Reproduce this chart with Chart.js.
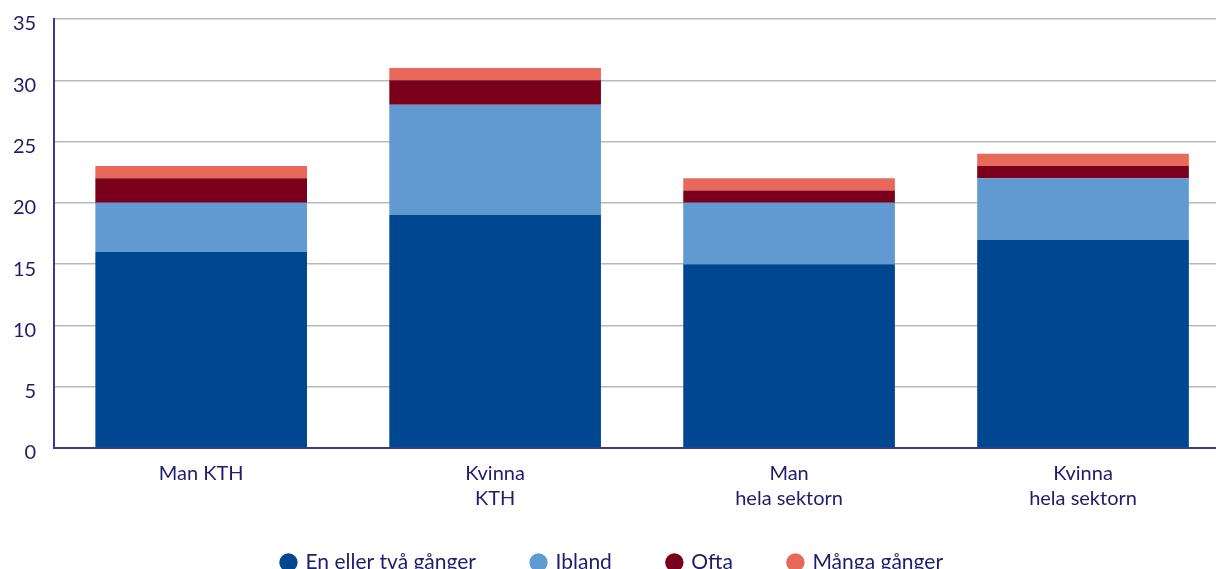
<!DOCTYPE html>
<html>
<head>
<meta charset="utf-8">
<script src="https://cdn.jsdelivr.net/npm/chart.js@4.4.1/dist/chart.umd.min.js"></script>
<style>
  html, body { margin: 0; padding: 0; background: #fff; overflow: hidden; }
  #wrap { width: 1230px; height: 594px; position: relative; margin-top: -11px; }
</style>
</head>
<body>
<div id="wrap"><canvas id="c"></canvas></div>
<script>
//categories
const cats = [["Man KTH"], ["Kvinna", "KTH"], ["Man", "hela sektorn"], ["Kvinna", "hela sektorn"]];
//series values
const enEllerTva = [16, 19, 15, 17];
const ibland = [4, 9, 5, 5];
const ofta = [2, 2, 1, 1];
const mangaGanger = [1, 1, 1, 1];
//y ticks
const yMax = 35;
const yStep = 5;

const navy = "#1f1c6b";
const font = "Lato, 'Open Sans', sans-serif";
const legendTrim = 28;//legend padding is wide sideways, take some height back

//shrink legend box, then draw it where it would have been
const legendShift = {
  id: "legendShift",
  beforeInit(chart) {
    const lg = chart.legend;
    const fit = lg.fit.bind(lg);
    lg.fit = function () { fit(); this.height -= legendTrim; };
  },
  afterLayout(chart) {
    chart.legend.top -= legendTrim;
    chart.legend.height += legendTrim;
  }
};

const ctx = document.getElementById("c").getContext("2d");
new Chart(ctx, {
  type: "bar",
  data: {
    labels: cats,
    datasets: [
      { label: "En eller två gånger", data: enEllerTva, backgroundColor: "#004791" },
      { label: "Ibland", data: ibland, backgroundColor: "#6199d1" },
      { label: "Ofta", data: ofta, backgroundColor: "#7a001c" },
      { label: "Många gånger", data: mangaGanger, backgroundColor: "#e8695a" }
    ]
  },
  plugins: [legendShift],
  options: {
    responsive: true,
    maintainAspectRatio: false,
    animation: false,
    datasets: { bar: { barPercentage: 0.72, categoryPercentage: 1 } },
    layout: { padding: { top: 0, left: -5, right: 0, bottom: 0 } },
    scales: {
      x: {
        stacked: true,
        grid: { display: false, drawTicks: false },
        border: { display: true, color: "#3b3a8a", width: 2 },
        ticks: { color: navy, font: { family: font, size: 20, lineHeight: 1.25 }, padding: 13, maxRotation: 0 }
      },
      y: {
        stacked: true,
        min: 0,
        max: yMax,
        ticks: { stepSize: yStep, color: navy, font: { family: font, size: 20 }, padding: 18, labelOffset: 5 },
        grid: { color: "#b9b9b9", lineWidth: 1.5, drawTicks: false },
        border: { display: true, color: "#3b3a8a", width: 2 }
      }
    },
    plugins: {
      legend: {
        position: "bottom",
        labels: {
          usePointStyle: true,
          pointStyle: "circle",
          boxWidth: 13,
          boxHeight: 13,
          padding: 56,
          color: navy,
          font: { family: font, size: 21 }
        }
      },
      tooltip: { enabled: false }
    }
  }
});
</script>
</body>
</html>
